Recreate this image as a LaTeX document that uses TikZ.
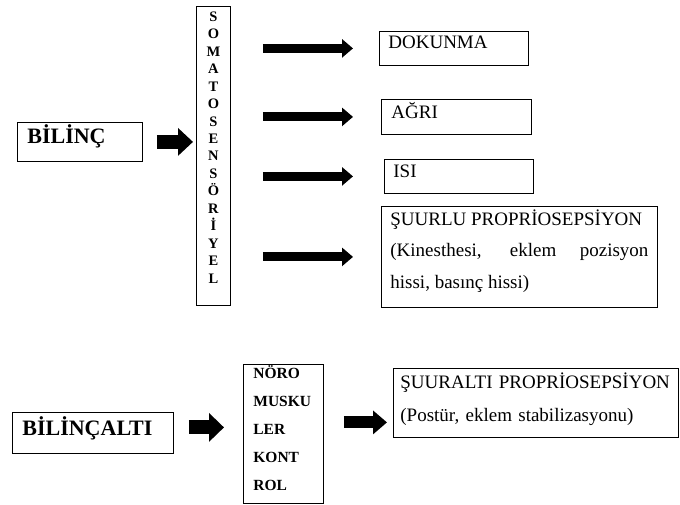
\documentclass[tikz,border=0pt]{standalone}
\usepackage{fontspec}
\setmainfont{Liberation Serif}
\usetikzlibrary{arrows.meta}
\tikzstyle{boxNode}=[draw,line width=0.8pt,anchor=north west,inner ysep=0pt,align=left]
\tikzstyle{headFont}=[font=\fontsize{22}{26}\selectfont\bfseries]
\tikzstyle{senseFont}=[font=\fontsize{19}{24}\selectfont]
\tikzstyle{bigArrow}=[line width=14pt,-{Triangle[length=15pt,width=27pt]}]
\tikzstyle{smallArrow}=[line width=9pt,-{Triangle[length=11pt,width=18pt]}]

\begin{document}
\begin{tikzpicture}[x=1pt,y=-1pt]
    \useasboundingbox (0,0) rectangle (680,504);

    \node[boxNode,headFont,inner xsep=10pt,text width=105pt,text height=21pt,text depth=18pt] (bilinc) at (17,122) {BİLİNÇ};
    \node[boxNode,align=center,font=\fontsize{14.5}{17.44}\selectfont\bfseries,inner xsep=6pt,text width=22pt,text height=15pt,text depth=284pt] (soma) at (196,6)
        {S\\O\\M\\A\\T\\O\\S\\E\\N\\S\\Ö\\R\\İ\\Y\\E\\L};

    \node[boxNode,senseFont,inner xsep=9pt,text width=131pt,text height=17pt,text depth=17pt] (dok) at (379,31) {DOKUNMA};
    \node[boxNode,senseFont,inner xsep=10pt,text width=130pt,text height=19pt,text depth=16pt] (agri) at (381,99) {AĞRI};
    \node[boxNode,senseFont,inner xsep=9pt,text width=131pt,text height=18pt,text depth=16pt] (isi) at (384,159) {ISI};
    \node[boxNode,align=justify,font=\fontsize{19}{31.5}\selectfont,inner xsep=9pt,text width=258pt,text height=19pt,text depth=82pt] (suurlu) at (381,206)
        {ŞUURLU PROPRİOSEPSİYON\\(Kinesthesi, eklem pozisyon\linebreak hissi, basınç hissi)};

    \draw[bigArrow,shorten <=14pt,shorten >=3pt] (bilinc.east) -- (bilinc.east -| soma.west);
    \draw[smallArrow,shorten <=32pt,shorten >=26pt] (soma.east |- dok.west) -- (dok.west);
    \draw[smallArrow,shorten <=32pt,shorten >=28pt] (soma.east |- agri.west) -- (agri.west);
    \draw[smallArrow,shorten <=32pt,shorten >=31pt] (soma.east |- isi.west) -- (isi.west);
    \draw[smallArrow,shorten <=32pt,shorten >=28pt] (soma.east |- suurlu.west) -- (suurlu.west);

    \node[boxNode,headFont,inner xsep=10pt,text width=141pt,text height=23pt,text depth=18pt] (altbilinc) at (12,412) {BİLİNÇALTI};
    \node[boxNode,font=\fontsize{15.5}{28}\selectfont\bfseries,inner xsep=10pt,text width=60pt,text height=14pt,text depth=125pt] (noro) at (243,364)
        {NÖRO\\MUSKU\\LER\\KONT\\ROL};
    \node[boxNode,font=\fontsize{19}{33}\selectfont,inner xsep=7pt,text width=271pt,text height=20pt,text depth=49pt] (suuralti) at (393,368)
        {ŞUURALTI PROPRİOSEPSİYON\\(Postür, eklem stabilizasyonu)};

    \coordinate (b1) at ([yshift=5.5pt]altbilinc.east);
    \coordinate (b2) at ([yshift=11.5pt]noro.east);
    \draw[bigArrow,-{Triangle[length=15pt,width=28pt]},shorten <=15pt,shorten >=19pt] (b1) -- (b1 -| noro.west);
    \draw[bigArrow,line width=12pt,-{Triangle[length=14pt,width=23pt]},shorten <=20pt,shorten >=6pt] (b2) -- (b2 -| suuralti.west);

\end{tikzpicture}
\end{document}
